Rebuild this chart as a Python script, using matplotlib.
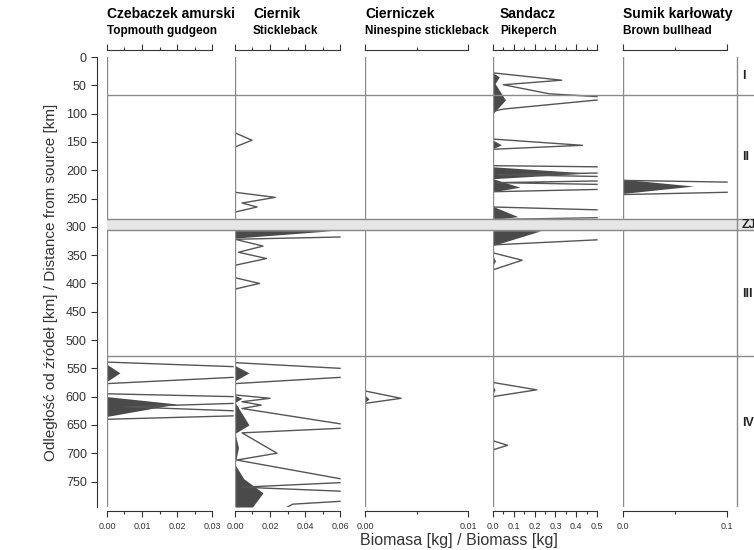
import numpy as np
import matplotlib
matplotlib.use("Agg")
import matplotlib.pyplot as plt
from matplotlib.ticker import FormatStrFormatter

plt.rcParams['font.family'] = ['Liberation Sans', 'DejaVu Sans']

# species headers (Polish / English)
names_pl = ["Czebaczek amurski", "Ciernik", "Cierniczek", "Sandacz", "Sumik karłowaty"]
names_en = ["Topmouth gudgeon", "Stickleback", "Ninespine stickleback", "Pikeperch", "Brown bullhead"]

# scale maximum of each panel [kg], major / minor tick steps
scale_max = [0.03, 0.06, 0.01, 0.5, 0.1]
major_step = [0.01, 0.02, 0.01, 0.1, 0.1]
minor_step = [0.005, 0.01, 0.005, 0.05, 0.05]
tick_fmt = ['%.2f', '%.2f', '%.2f', '%.1f', '%.1f']

# exaggerated outline curves: biomass [kg] and distance [km] (nan = clipped at the edge)
out_bio = [
    [0, 0.036, np.nan, 0.036, 0,
     0, 0.036, np.nan, 0.036, 0.005, 0.036, np.nan, 0.036, 0],
    [0, 0.0097, 0, 0, 0.023, 0.004, 0.0126, 0,
     0, 0.06, np.nan, 0.06, 0, 0.016, 0.002, 0.018, 0, 0, 0.014, 0,
     0, 0.06, np.nan, 0.06, 0,
     0, 0.02, 0.004, 0.015, 0.004, 0.06, np.nan, 0.06, 0.004, 0.024, 0.001,
     0.06, np.nan, 0.06, 0.004, 0.06, np.nan, 0.06, 0.033, 0.03],
    [0, 0.0035, 0],
    [0, 0.33, 0.05, 0.27, 0.5, np.nan, 0.5, 0.05, 0,
     0, 0.43, 0,
     0, 0.5, np.nan, 0.5, 0.02, 0.5, np.nan, 0.5, 0.02, 0.5, np.nan, 0.5, 0,
     0, 0.5, np.nan, 0.5, 0,
     0, 0.5, np.nan, 0.5, 0,
     0, 0.14, 0,
     0, 0.21, 0,
     0, 0.07, 0],
    [0, 0.1, np.nan, 0.1, 0],
]
out_km = [
    [539, 547, np.nan, 566, 577,
     595, 600, np.nan, 612, 618, 625, np.nan, 634, 640],
    [134, 147, 159, 239, 248, 258, 265, 274,
     300, 306, np.nan, 318, 322, 334, 345, 356, 368, 390, 400, 410,
     540, 550, np.nan, 566, 577,
     597, 603, 609, 615, 621, 648, np.nan, 656, 664, 700, 712,
     745, np.nan, 752, 760, 767, np.nan, 785, 790, 795],
    [590, 603, 612],
    [28, 41, 49, 65, 70, np.nan, 76, 92, 96,
     145, 156, 163,
     192, 194, np.nan, 205, 208, 211, np.nan, 219, 222, 225, np.nan, 234, 238,
     265, 270, np.nan, 284, 287,
     300, 302, np.nan, 323, 332,
     346, 359, 376,
     575, 588, 600,
     678, 686, 694],
    [218, 221, np.nan, 239, 243],
]

# filled (true) biomass curves
fill_bio = [
    [0, 0.0037, 0, 0, 0.02, 0],
    [0, 0.055, 0, 0, 0.008, 0,
     0, 0.004, 0, 0.008, 0, 0.002, 0, 0.005, 0.016, 0.01],
    [0, 0.0004, 0],
    [0, 0.03, 0.01, 0.06, 0,
     0, 0.04, 0,
     0, 0.46, 0, 0.13, 0,
     0, 0.12, 0,
     0, 0.23, 0,
     0, 0.012, 0,
     0, 0.01, 0],
    [0, 0.068, 0],
]
fill_km = [
    [543, 558, 573, 600, 613, 635],
    [303, 307, 320, 545, 558, 572,
     598, 603, 610, 650, 665, 690, 720, 745, 770, 795],
    [598, 604, 610],
    [28, 35, 47, 76, 100,
     147, 155, 162,
     194, 205, 215, 230, 238,
     264, 282, 287,
     304, 307, 333,
     352, 360, 368,
     582, 588, 594],
    [216, 228, 241],
]

# river sections: boundaries [km] and labels
section_lines = [68, 528]
band_km = (287, 305)
section_labels = ["I", "II", "ZJ", "III", "IV"]
section_label_km = [34, 177, 297, 419, 647]

y_max = 795

W, H = 754, 550
fig = plt.figure(figsize=(W / 100, H / 100), dpi=100)
top_px, bot_px = 57, 507

def box(l, r):
    return [l / W, 1 - bot_px / H, (r - l) / W, (bot_px - top_px) / H]

# panel borders (px) and the pixel length of each scale bar
borders = [107, 235, 365, 493, 623, 737]
scale_px = [105, 105, 103, 104, 104]
header_x = [107, 253, 365, 500, 623]

line_col = "#555555"
grid_col = "#8a8a8a"
text_col = "#333333"

for i in range(5):
    ax = fig.add_axes(box(borders[i], borders[i + 1]))
    width_px = borders[i + 1] - borders[i]
    xmax = scale_max[i] * width_px / scale_px[i]

    ax.fill_betweenx(fill_km[i], 0, fill_bio[i], color="#4a4a4a", lw=0)
    ax.plot(out_bio[i], out_km[i], color=line_col, lw=1.0)
    ax.axvline(0, color=grid_col, lw=1.0)

    for s in ["left", "right"]:
        ax.spines[s].set_visible(False)
    for s, off in [("top", 5), ("bottom", 3)]:
        ax.spines[s].set_position(("outward", off))
        ax.spines[s].set_bounds(0, scale_max[i])
        ax.spines[s].set_color(text_col)

    n_major = int(round(scale_max[i] / major_step[i]))
    n_minor = int(round(scale_max[i] / minor_step[i]))
    ax.set_xticks(np.arange(n_major + 1) * major_step[i])
    ax.set_xticks(np.arange(n_minor + 1) * minor_step[i], minor=True)
    ax.xaxis.set_major_formatter(FormatStrFormatter(tick_fmt[i]))
    ax.tick_params(axis="x", which="both", top=True, bottom=True, direction="out",
                   labelsize=6.5, colors=text_col, pad=3)
    ax.tick_params(axis="x", which="major", length=4.5, width=0.8)
    ax.tick_params(axis="x", which="minor", length=2.5, width=0.8)

    if i == 0:
        ax.spines["left"].set_visible(True)
        ax.spines["left"].set_position(("outward", 7))
        ax.spines["left"].set_bounds(0, y_max)
        ax.spines["left"].set_color(text_col)
        ax.set_yticks(np.arange(0, 751, 50))
        ax.tick_params(axis="y", labelsize=9, length=4, colors=text_col)
        ax.set_ylabel("Odległość od źródeł [km] / Distance from source [km]",
                      fontsize=11, color=text_col, labelpad=6)
    else:
        ax.set_yticks([])

    ax.set_xlim(0, xmax)
    ax.set_ylim(y_max, 0)

    fig.text(header_x[i] / W, 1 - 14 / H, names_pl[i],
             fontsize=10, fontweight="bold", va="center", ha="left")
    fig.text(header_x[i] / W, 1 - 31 / H, names_en[i],
             fontsize=8.5, fontweight="bold", va="center", ha="left")

# overlay with section boundaries and labels
ov = fig.add_axes(box(107, 800))
ov.set_xlim(0, 1)
ov.set_ylim(y_max, 0)
ov.patch.set_alpha(0)
ov.axis("off")
for km in section_lines:
    ov.axhline(km, color=grid_col, lw=1.0)
ov.axhspan(band_km[0], band_km[1], color="#e6e6e6", zorder=3)
ov.axhline(band_km[0], color=grid_col, lw=1.0, zorder=4)
ov.axhline(band_km[1], color=grid_col, lw=1.0, zorder=4)
ov.axvline((737 - 107) / (800 - 107), color=grid_col, lw=1.0, zorder=5)
for lab, km in zip(section_labels, section_label_km):
    ov.text((742 - 107) / (800 - 107), km, lab, fontsize=9, fontweight="bold",
            va="center", ha="left", color="#222222", zorder=6)

fig.text(459 / W, 1 - 540 / H, "Biomasa [kg] / Biomass [kg]", fontsize=11.5,
         ha="center", va="center", color=text_col)

fig.savefig("out.png", dpi=100)
